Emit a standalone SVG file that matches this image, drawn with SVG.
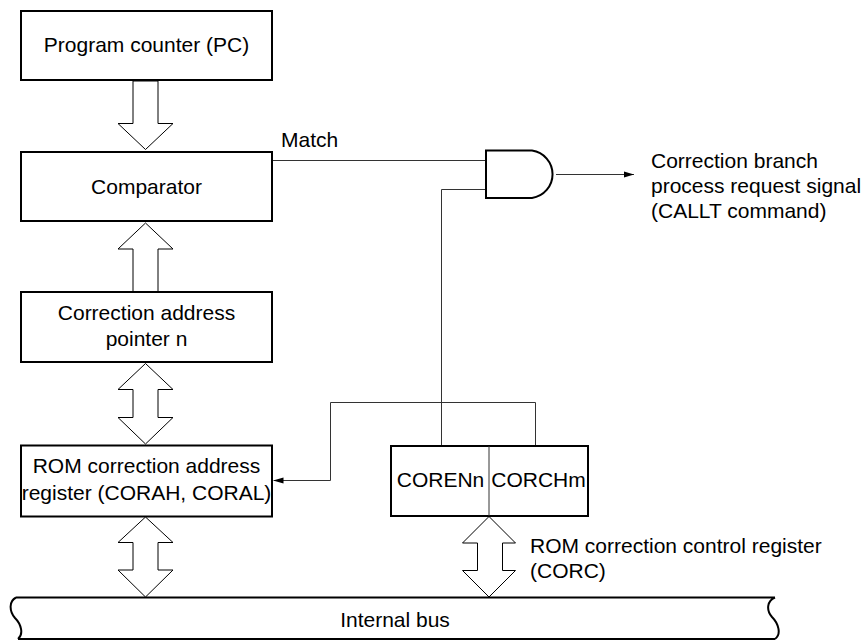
<svg xmlns="http://www.w3.org/2000/svg" width="868" height="641" viewBox="0 0 868 641">
<style>
.box{fill:#fff;stroke:#000;stroke-width:2}
.blk{fill:#fff;stroke:#000;stroke-width:1}
.wire{fill:none;stroke:#333;stroke-width:1}
.t{font-family:"Liberation Sans",Arial,sans-serif;font-size:21px;fill:#000}
.c{text-anchor:middle}
</style>
<defs>
<marker id="ah" markerWidth="10" markerHeight="8" refX="10" refY="4" orient="auto" markerUnits="userSpaceOnUse">
<path d="M0,1 L10,4 L0,7 Z" fill="#000"/>
</marker>
</defs>
<rect width="868" height="641" fill="#fff"/>
<g id="connectors">
<path class="wire" d="M272,160.5 H486"/>
<path class="wire" d="M556,174.5 H634" marker-end="url(#ah)"/>
<path class="wire" d="M486,189.5 H441.5 V446"/>
<path class="wire" d="M535.5,446 V402.5 H330.5 V480.5 H273.5" marker-end="url(#ah)"/>
<polygon class="blk" points="133,81 158,81 158,123.5 173,123.5 145.5,149.5 118,123.5 133,123.5"/>
<polygon class="blk" points="145.5,223 173,249 158,249 158,292 133,292 133,249 118,249"/>
<polygon class="blk" points="145.5,363.5 173,389.5 158,389.5 158,417.5 173,417.5 145.5,444 118,417.5 133,417.5 133,389.5 118,389.5"/>
<polygon class="blk" points="145.5,517 173,542.5 158,542.5 158,570 173,570 145.5,597 118,570 133,570 133,542.5 118,542.5"/>
<polygon class="blk" points="489,516.5 515.5,543 502.5,543 502.5,570.5 515.5,570.5 489,597 462.5,570.5 477.5,570.5 477.5,543 462.5,543"/>
</g>
<g id="pc">
<rect class="box" x="21" y="11" width="251" height="69"/>
<text class="t c" x="146.5" y="52">Program counter (PC)</text>
</g>
<g id="comparator">
<rect class="box" x="21" y="152" width="251" height="69"/>
<text class="t c" x="146.5" y="194">Comparator</text>
</g>
<g id="match-label">
<text class="t" x="281" y="147">Match</text>
</g>
<g id="and-gate">
<path d="M486,150.5 H532 A24,24 0 0 1 532,198 H486 Z" fill="#fff" stroke="#000" stroke-width="2"/>
</g>
<g id="output-label">
<text class="t" x="651" y="168">Correction branch</text>
<text class="t" x="651" y="193">process request signal</text>
<text class="t" x="651" y="218">(CALLT command)</text>
</g>
<g id="cap">
<rect class="box" x="21" y="292" width="251" height="70"/>
<text class="t c" x="146.5" y="320">Correction address</text>
<text class="t c" x="146.5" y="346">pointer n</text>
</g>
<g id="rom-addr">
<rect class="box" x="21" y="445.5" width="251" height="71"/>
<text class="t c" x="146.5" y="473">ROM correction address</text>
<text class="t c" x="146.5" y="500">register (CORAH, CORAL)</text>
</g>
<g id="corc">
<rect class="box" x="391" y="446" width="197" height="70"/>
<line x1="489" y1="446" x2="489" y2="516" stroke="#333" stroke-width="1"/>
<text class="t c" x="440.5" y="487">CORENn</text>
<text class="t c" x="538.5" y="487">CORCHm</text>
</g>
<g id="corc-label">
<text class="t" x="530" y="553">ROM correction control register</text>
<text class="t" x="530" y="578">(CORC)</text>
</g>
<g id="internal-bus">
<path d="M16,597.5 H775 C767,601 766,610 772,617 C778,623 782,634 775,639 H18 C24,634 21,624 15,618 C9,611 9,601 16,597.5 Z" fill="#fff" stroke="none"/>
<path d="M16,597.5 H775 M18,639 H775 M16,597.5 C9,601 9,611 15,618 C21,624 24,634 18,639 M775,597.5 C767,601 766,610 772,617 C778,623 782,634 775,639" fill="none" stroke="#000" stroke-width="2"/>
<text class="t c" x="395" y="627">Internal bus</text>
</g>
</svg>
